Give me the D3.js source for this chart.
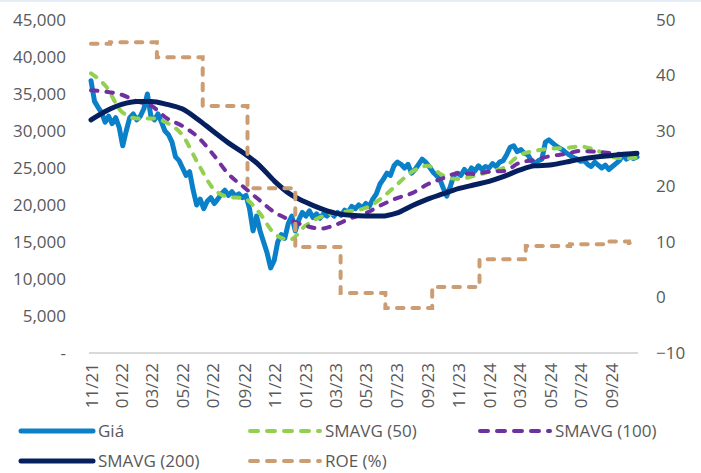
<!DOCTYPE html>
<html>

<head>
  <meta charset="utf8">
  <script src="https://d3js.org/d3.v7.min.js"></script>
  <style>
    body {
      margin: 0;
      background: #fff;
    }

    text {
      font-family: "Open Sans", sans-serif;
      font-size: 17px;
      fill: #595959;
    }
  </style>
</head>

<body>
  <svg id="chart" width="701" height="473"></svg>
  <script>
    var chart = d3.select('#chart');
    var width = +chart.attr('width');
    var height = +chart.attr('height');

    // weekly closing price, first week 2021-11-01
    var priceStart = '2021-11-01';
    var price = [
      36800, 34000, 33200, 32500, 31200, 32000, 31000, 31800, 30500, 28000,
      30000, 31800, 32300, 31500, 32000, 33000, 35000, 32000, 31500, 32300,
      31200, 30000, 29500, 28500, 26500, 26000, 25000, 24000, 24500, 22000,
      20000, 20800, 19500, 20500, 21000, 20200, 20800, 21500, 22000, 21300,
      21800, 21200, 21500, 21000, 21300, 19500, 16500, 18500, 16500, 15000,
      13500, 11500, 12500, 15000, 16000, 15500, 17500, 18500, 16500, 18000,
      19000, 18500, 19200, 18300, 18800, 18200, 18800, 18500, 19000, 18500,
      19000, 18600, 19300, 19000, 19800, 19500, 20000, 19600, 20200, 19800,
      20800, 21500, 22800, 23500, 24300, 24000, 25300, 25800, 25500, 25000,
      25500, 24300, 24800, 25500, 26200, 25800, 25200, 24500, 24000, 23500,
      22300, 21200, 22500, 24000, 24300, 24000, 24800, 24200, 25000, 24600,
      25300, 24800, 25200, 25000, 25600, 25200, 25800, 26000, 26800, 27800,
      28000, 27200, 27500, 27000, 26800, 26000, 25600, 26000, 26200, 28500,
      28800, 28400, 28000, 27700, 27400, 27000, 26700, 26400, 26200, 25900,
      26000, 25500, 25200, 25800, 25400, 25000, 25400, 24800, 25200, 25600,
      26000, 26800, 26200, 26500, 26300, 26500
    ];

    // moving averages, read monthly (1st of month) plus the last day
    var smaDates = [
      '2021-11-01', '2021-12-01', '2022-01-01', '2022-02-01', '2022-03-01', '2022-04-01',
      '2022-05-01', '2022-06-01', '2022-07-01', '2022-08-01', '2022-09-01', '2022-10-01',
      '2022-11-01', '2022-12-01', '2023-01-01', '2023-02-01', '2023-03-01', '2023-04-01',
      '2023-05-01', '2023-06-01', '2023-07-01', '2023-08-01', '2023-09-01', '2023-10-01',
      '2023-11-01', '2023-12-01', '2024-01-01', '2024-02-01', '2024-03-01', '2024-04-01',
      '2024-05-01', '2024-06-01', '2024-07-01', '2024-08-01', '2024-09-01', '2024-10-01',
      '2024-10-21'
    ];
    var sma50 = [
      37800, 36000, 32600, 31700, 31700, 31100, 29500, 25700, 22300, 21100, 20900, 19000,
      16100, 15300, 17200, 18400, 18900, 19200, 19600, 20900, 22700, 24500, 25300, 24000,
      23500, 23900, 24500, 25100, 26700, 27300, 27600, 27700, 27900, 27400, 26500, 26300,
      26400
    ];
    var sma100 = [
      35500, 35300, 34900, 34000, 33400, 31700, 30700, 29200, 26900, 24200, 22400, 20700,
      19000, 18000, 17200, 16800, 17300, 18200, 18900, 20000, 20900, 21600, 22800, 23600,
      24300, 24200, 24500, 24600, 25700, 26100, 26600, 26900, 27300, 27200, 27000, 26900,
      26900
    ];
    var sma200 = [
      31500, 32700, 33600, 34000, 34000, 33600, 33000, 31600, 30000, 28400, 27000, 25400,
      23200, 21500, 20400, 19500, 18900, 18600, 18500, 18500, 18900, 19900, 20800, 21500,
      22200, 22700, 23200, 23900, 24700, 25300, 25400, 25800, 26200, 26500, 26700, 26900,
      27000
    ];

    // ROE (%), value from each date on
    var roeDates = [
      '2021-11-01', '2021-12-09', '2022-03-12', '2022-06-11', '2022-09-08', '2022-12-12',
      '2023-03-12', '2023-06-09', '2023-09-10', '2023-12-13', '2024-03-14', '2024-06-10',
      '2024-08-20', '2024-10-05', '2024-10-21'
    ];
    var roe = [45.7, 46.0, 43.3, 34.5, 19.7, 9.1, 0.8, -1.9, 1.9, 6.9, 9.3, 9.6, 10.1, 9.8, 9.8];

    var xTickLabels = [
      '11/21', '01/22', '03/22', '05/22', '07/22', '09/22', '11/22', '01/23', '03/23',
      '05/23', '07/23', '09/23', '11/23', '01/24', '03/24', '05/24', '07/24', '09/24'
    ];
    var leftTicks = [0, 5000, 10000, 15000, 20000, 25000, 30000, 35000, 40000, 45000];
    var rightTicks = [-10, 0, 10, 20, 30, 40, 50];

    var seriesNames = ['Giá', 'SMAVG (50)', 'SMAVG (100)', 'SMAVG (200)', 'ROE (%)'];
    var colors = ['#0a80c9', '#92d050', '#7030a0', '#06205f', '#cc9d72'];

    var parse = d3.timeParse('%Y-%m-%d');
    var parseTick = d3.timeParse('%m/%y');
    var t0 = parse(priceStart);
    var priceData = price.map((v, i) => ({ date: d3.timeDay.offset(t0, 7 * i), value: v }));
    var smaDateObjs = smaDates.map(parse);

    var x = d3.scaleTime()
      .domain([t0, priceData[priceData.length - 1].date])
      .range([91, 637]);
    var yL = d3.scaleLinear().domain([0, 45000]).range([353, 20]);
    var yR = d3.scaleLinear().domain([-10, 50]).range([353, 20]);

    // top hairline like the source
    chart.append('rect').attr('width', width).attr('height', 2).attr('fill', '#e3edf7');

    // axes
    var leftAxis = chart.append('g')
      .attr('transform', 'translate(66,0)')
      .call(d3.axisLeft(yL).tickValues(leftTicks).tickSize(0).tickPadding(0)
        .tickFormat((d) => d === 0 ? '-' : d3.format(',')(d)));
    leftAxis.select('.domain').remove();

    var rightAxis = chart.append('g')
      .attr('transform', 'translate(656,0)')
      .call(d3.axisRight(yR).tickValues(rightTicks).tickSize(0).tickPadding(0));
    rightAxis.select('.domain').remove();

    chart.append('line')
      .attr('x1', 89).attr('x2', 638)
      .attr('y1', 353).attr('y2', 353)
      .attr('stroke', '#d9d9d9')
      .attr('stroke-width', 2);

    var xAxis = chart.append('g')
      .attr('transform', 'translate(0,353)')
      .call(d3.axisBottom(x).tickValues(xTickLabels.map(parseTick)).tickSize(0)
        .tickFormat(d3.timeFormat('%m/%y')));
    xAxis.select('.domain').remove();
    xAxis.selectAll('text')
      .attr('transform', 'rotate(-90)')
      .attr('x', -10)
      .attr('y', 0)
      .attr('dy', '0.36em')
      .style('text-anchor', 'end');

    chart.selectAll('.tick text')
      .attr('fill', '#595959')
      .style('font-family', '"Open Sans", sans-serif')
      .style('font-size', '17px');

    // lines
    var lineL = d3.line()
      .x((d) => x(d.date))
      .y((d) => yL(d.value));

    chart.append('path')
      .datum(priceData)
      .attr('d', lineL)
      .attr('fill', 'none')
      .attr('stroke', colors[0])
      .attr('stroke-width', 5)
      .attr('stroke-linejoin', 'round')
      .attr('stroke-linecap', 'round');

    var smoothL = d3.line()
      .curve(d3.curveMonotoneX)
      .x((d) => x(d.date))
      .y((d) => yL(d.value));

    [sma50, sma100].forEach((s, k) => {
      chart.append('path')
        .datum(s.map((v, i) => ({ date: smaDateObjs[i], value: v })))
        .attr('d', smoothL)
        .attr('fill', 'none')
        .attr('stroke', colors[k + 1])
        .attr('stroke-width', 4)
        .attr('stroke-linecap', 'round')
        .attr('stroke-dasharray', '6.5,9');
    });

    chart.append('path')
      .datum(sma200.map((v, i) => ({ date: smaDateObjs[i], value: v })))
      .attr('d', smoothL)
      .attr('fill', 'none')
      .attr('stroke', colors[3])
      .attr('stroke-width', 5)
      .attr('stroke-linecap', 'round');

    var stepR = d3.line()
      .curve(d3.curveStepAfter)
      .x((d) => x(d.date))
      .y((d) => yR(d.value));

    chart.append('path')
      .datum(roe.map((v, i) => ({ date: parse(roeDates[i]), value: v })))
      .attr('d', stepR)
      .attr('fill', 'none')
      .attr('stroke', colors[4])
      .attr('stroke-width', 4)
      .attr('stroke-linecap', 'round')
      .attr('stroke-dasharray', '6.5,9');

    // legend
    var legendPos = [[21, 431], [250, 431], [480, 431], [21, 461], [250, 461]];
    var legend = chart.selectAll('.legend')
      .data(seriesNames)
      .enter()
      .append('g')
      .attr('class', 'legend')
      .attr('transform', (d, i) => 'translate(' + legendPos[i][0] + ',' + legendPos[i][1] + ')');

    legend.append('line')
      .attr('x1', 0).attr('x2', (d, i) => i === 0 || i === 3 ? 72 : 70)
      .attr('stroke', (d, i) => colors[i])
      .attr('stroke-width', (d, i) => i === 0 || i === 3 ? 5 : 4)
      .attr('stroke-linecap', 'round')
      .attr('stroke-dasharray', (d, i) => i === 0 || i === 3 ? null : '8,9');

    legend.append('text')
      .attr('x', (d, i) => i === 0 || i === 3 ? 77 : 75)
      .attr('dy', '0.36em')
      .text((d) => d);
  </script>
</body>

</html>
